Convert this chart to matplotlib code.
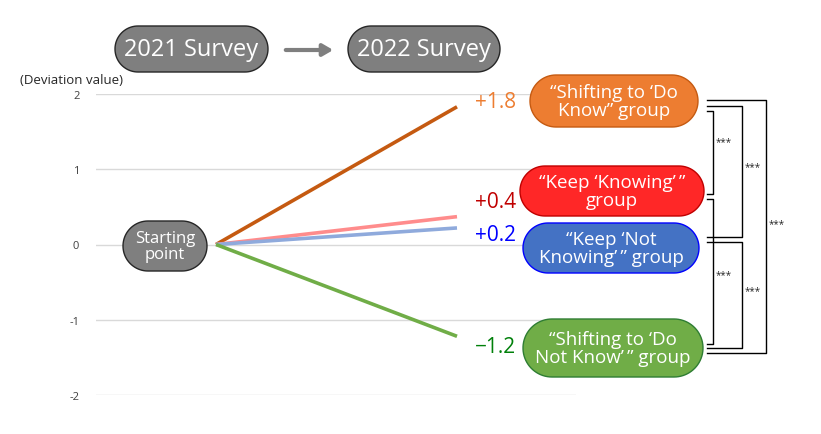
import numpy as np
import matplotlib.pyplot as plt
from matplotlib.patches import Polygon

plt.rcParams['font.family'] = ['Open Sans', 'DejaVu Sans']

# data
groups = ['Shifting to Do Know', 'Keep Knowing', 'Keep Not Knowing', 'Shifting to Do Not Know']
end_values = [1.83, 0.37, 0.22, -1.22]
value_labels = ['+1.8', '+0.4', '+0.2', '\u22121.2']
line_colors = ['#C55A11', '#FF8C8C', '#8FAADC', '#70AD47']
label_colors = ['#ED7D31', '#C00000', '#0000FF', '#00800A']
yticks = [-2, -1, 0, 1, 2]
box_texts = ['\u201cShifting to \u2018Do\nKnow\u201d group',
             '\u201cKeep \u2018Knowing\u2019\u2009\u201d\ngroup',
             '\u201cKeep \u2018Not\nKnowing\u2019\u2009\u201d group',
             '\u201cShifting to \u2018Do\nNot Know\u2019\u2009\u201d group']
box_face = ['#ED7D31', '#FF2727', '#4472C4', '#70AD47']
box_edge = ['#C55A11', '#C00000', '#0000FF', '#2E7D32']
sig = ['***', '***', '***', '***', '***']

W, H = 821, 435
fig = plt.figure(figsize=(W / 100, H / 100), dpi=100)

# data axes: y = deviation value, x = 0 (2021) .. 1 (2022)
ax = fig.add_axes([96 / W, (H - 396) / H, (576 - 96) / W, 301 / H])
ax.set_ylim(-2, 2)
ax.set_xlim(-(216 - 96) / 241, (576 - 216) / 241)
for v, c in zip(end_values, line_colors):
    ax.plot([0, 1], [0, v], color=c, lw=2.6, solid_capstyle='butt', zorder=3)
ax.set_yticks(yticks)
ax.set_yticklabels([str(t) for t in yticks], fontsize=8, color='#404040')
ax.tick_params(axis='y', length=0, pad=12)
ax.set_xticks([])
ax.grid(axis='y', color='#D9D9D9', lw=1)
ax.set_axisbelow(True)
for s in ax.spines.values():
    s.set_visible(False)

# overlay in pixel coordinates for boxes and brackets
ov = fig.add_axes([0, 0, 1, 1], facecolor='none')
ov.set_xlim(0, W)
ov.set_ylim(H, 0)
ov.axis('off')


def box(x0, y0, x1, y1, text, fc, ec, fs):
    r = (y1 - y0) / 2
    cy = (y0 + y1) / 2
    t = np.linspace(-np.pi / 2, np.pi / 2, 40)
    right = np.column_stack([x1 - r + r * np.cos(t), cy + r * np.sin(t)])
    left = np.column_stack([x0 + r - r * np.cos(t), cy - r * np.sin(t)])
    ov.add_patch(Polygon(np.vstack([right, left]), closed=True, fc=fc, ec=ec, lw=1))
    ov.text((x0 + x1) / 2, cy, text, color='white', fontsize=fs,
            ha='center', va='center', linespacing=1.0)


box(115, 27, 268, 73, '2021 Survey', '#7F7F7F', '#262626', 17)
box(348, 27, 500, 73, '2022 Survey', '#7F7F7F', '#262626', 17)
ov.annotate('', xy=(336, 51), xytext=(283, 51),
            arrowprops=dict(arrowstyle='-|>,head_length=0.6,head_width=0.35',
                            color='#7F7F7F', lw=3))
box(123, 222, 207, 272, 'Starting\npoint', '#7F7F7F', '#262626', 12)
ov.text(20, 81, '(Deviation value)', fontsize=9.5, color='#262626', va='center')

boxes = [(530, 76, 698, 128), (520, 167, 704, 217), (523, 224, 699, 274), (523, 320, 703, 378)]
for b, t, fc, ec in zip(boxes, box_texts, box_face, box_edge):
    box(*b, t, fc, ec, 13.5)

label_y = [103, 203, 236, 348]
for ly, lab, c in zip(label_y, value_labels, label_colors):
    ov.text(516, ly, lab, color=c, fontsize=15, ha='right', va='center')

# brackets: (y at upper box, y at lower box, x of vertical, y of label)
brackets = [(112, 195, 713, 143), (107, 238, 742, 168), (101, 354, 766, 225),
            (200, 345, 713, 276), (243, 349, 742, 292)]
for (ya, yb, xv, yl), s in zip(brackets, sig):
    ov.plot([707, xv, xv, 707], [ya, ya, yb, yb], color='black', lw=1)
    ov.text(xv + 3, yl, s, fontsize=7, ha='left', va='center', color='#262626')

fig.savefig('out.png', dpi=100)
